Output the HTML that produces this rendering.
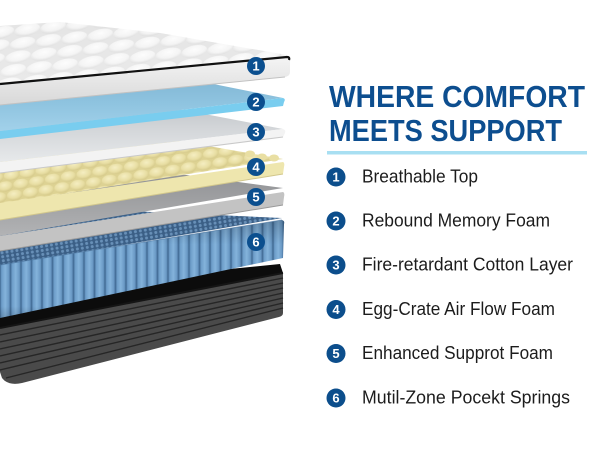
<!DOCTYPE html>
<html><head><meta charset="utf-8"><style>
html,body{margin:0;padding:0;background:#fff;}
svg{display:block;}
text{font-family:"Liberation Sans",Arial,sans-serif;}
</style></head><body>
<svg width="600" height="450" viewBox="0 0 600 450" xmlns="http://www.w3.org/2000/svg">
<defs>
  <radialGradient id="qg" cx="0.5" cy="0.35" r="0.62">
    <stop offset="0" stop-color="#fcfcfc"/>
    <stop offset="0.7" stop-color="#f1f1f1"/>
    <stop offset="1" stop-color="#d9d9d9"/>
  </radialGradient>
  <pattern id="quilt" patternUnits="userSpaceOnUse" width="26" height="13" patternTransform="rotate(-6) skewX(-25)">
    <rect width="26" height="13" fill="#e0e0e0"/>
    <ellipse cx="13" cy="6.5" rx="12.8" ry="6.2" fill="url(#qg)"/>
  </pattern>
  <radialGradient id="eg" cx="0.45" cy="0.35" r="0.65">
    <stop offset="0" stop-color="#f5eec2"/>
    <stop offset="0.65" stop-color="#e8dea3"/>
    <stop offset="1" stop-color="#d4c889"/>
  </radialGradient>
  <pattern id="egg" patternUnits="userSpaceOnUse" width="16" height="20" patternTransform="rotate(-9)">
    <rect width="16" height="20" fill="#ddd293"/>
    <ellipse cx="8" cy="5" rx="7.8" ry="5.2" fill="url(#eg)"/>
    <ellipse cx="0" cy="15" rx="7.8" ry="5.2" fill="url(#eg)"/>
    <ellipse cx="16" cy="15" rx="7.8" ry="5.2" fill="url(#eg)"/>
  </pattern>
  <pattern id="sptop" patternUnits="userSpaceOnUse" width="5" height="4" patternTransform="rotate(-9)">
    <rect width="5" height="4" fill="#3b5f86"/>
    <circle cx="2.5" cy="2" r="1.5" fill="#6890b8"/>
  </pattern>
  <linearGradient id="spring" gradientUnits="userSpaceOnUse" x1="0" y1="0" x2="10.5" y2="0" spreadMethod="repeat">
    <stop offset="0" stop-color="#3f6891"/>
    <stop offset="0.15" stop-color="#6c9cc8"/>
    <stop offset="0.5" stop-color="#84b3db"/>
    <stop offset="0.85" stop-color="#6998c4"/>
    <stop offset="1" stop-color="#3f6891"/>
  </linearGradient>
  <linearGradient id="spshade" x1="0" y1="0" x2="0" y2="1">
    <stop offset="0" stop-color="#000" stop-opacity="0.2"/>
    <stop offset="0.25" stop-color="#000" stop-opacity="0"/>
    <stop offset="0.88" stop-color="#000" stop-opacity="0"/>
    <stop offset="1" stop-color="#000" stop-opacity="0.15"/>
  </linearGradient>
  <linearGradient id="band1" x1="0" y1="0" x2="0" y2="1">
    <stop offset="0" stop-color="#f4f4f4"/>
    <stop offset="1" stop-color="#d8d8d8"/>
  </linearGradient>
  <linearGradient id="topshade" x1="0" y1="0" x2="0" y2="1">
    <stop offset="0" stop-color="#fff" stop-opacity="0.15"/>
    <stop offset="1" stop-color="#fff" stop-opacity="0.3"/>
  </linearGradient>
  <linearGradient id="blueTop" x1="0" y1="0" x2="0" y2="1">
    <stop offset="0" stop-color="#6ea3c4"/>
    <stop offset="0.7" stop-color="#8fc4e0"/>
    <stop offset="1" stop-color="#a2d1ea"/>
  </linearGradient>
  <linearGradient id="whiteTop" x1="0" y1="0" x2="0" y2="1">
    <stop offset="0" stop-color="#a9aeb4"/>
    <stop offset="0.6" stop-color="#d2d5d8"/>
    <stop offset="1" stop-color="#e7e9eb"/>
  </linearGradient>
  <linearGradient id="grayTop" x1="0" y1="0" x2="0" y2="1">
    <stop offset="0" stop-color="#85868a"/>
    <stop offset="0.65" stop-color="#a2a3a5"/>
    <stop offset="1" stop-color="#b2b3b5"/>
  </linearGradient>
</defs>

<rect width="600" height="450" fill="#fff"/>

<!-- BASE -->
<path d="M0,292 L280,264 L283,273 L0,331 Z" fill="#0c0c0c"/>
<path d="M0,328 L283,273 L283,313 Q283,316 279,317 L22,383 Q8,386 2,378 L0,372 Z" fill="#4a4a4a"/>
<g stroke="#262626" stroke-width="1.4" fill="none">
  <path d="M0,335 L283,278"/>
  <path d="M0,342 L283,283"/>
  <path d="M0,349 L283,288"/>
  <path d="M0,356 L283,293"/>
  <path d="M0,363 L283,298"/>
  <path d="M0,370 L283,303"/>
  <path d="M6,378 L283,308"/>
</g>
<path d="M0,328 L283,273" stroke="#151515" stroke-width="2" fill="none"/>

<!-- SPRINGS -->
<path d="M0,205 L282,218 L0,266 Z" fill="url(#sptop)"/>
<path d="M0,265 L282,220 Q285,221 284,224 L283,258 L0,318 Z" fill="url(#spring)"/>
<path d="M0,265 L282,220 Q285,221 284,224 L283,258 L0,318 Z" fill="url(#spshade)"/>
<path d="M0,265 L282,220" stroke="#4c77a0" stroke-width="1" fill="none" opacity="0.6"/>

<!-- LAYER 5 gray -->
<path d="M0,150 L283,188 L0,236 Z" fill="url(#grayTop)"/>
<path d="M0,236 L283,192 Q285,193 284,197 L283,205 L0,251 Z" fill="#c3c3c3"/>
<path d="M0,251 L283,205" stroke="#9a9a9a" stroke-width="1" fill="none"/>

<!-- LAYER 4 egg crate -->
<path d="M0,110 L283,159 L0,204 Z" fill="url(#egg)"/>
<g fill="#e9dfa3">
  <ellipse cx="262" cy="157" rx="5" ry="3.5"/>
  <ellipse cx="274" cy="158" rx="5" ry="3.5"/>
  <ellipse cx="250" cy="154" rx="5" ry="3.5"/>
</g>
<path d="M0,203 L283,162 Q285,163 284,167 L283,174 L0,220 Z" fill="#eee6ae"/>
<path d="M0,220 L283,174" stroke="#d2c78c" stroke-width="1" fill="none"/>

<!-- LAYER 3 white -->
<path d="M0,75 L283,129 L0,162 Z" fill="url(#whiteTop)"/>
<path d="M0,162 L283,129 Q286,130 285,133 L283,137 L0,173 Z" fill="#f3f3f3"/>
<path d="M0,173 L283,137" stroke="#c9c9c9" stroke-width="1" fill="none"/>

<!-- LAYER 2 blue -->
<path d="M0,41 L283,98 L0,131 Z" fill="url(#blueTop)"/>
<path d="M0,131 L283,98 Q286,99 284,102 L283,106 L0,139 Z" fill="#79cdef"/>

<!-- LAYER 1 top pillow -->
<path d="M0,26 L60,22 L160,33 L287,55 L287,58 L0,84 Z" fill="url(#quilt)"/>
<path d="M0,26 L60,22 L160,33 L287,55 L287,58 L0,84 Z" fill="url(#topshade)"/>
<path d="M0,85 L287,57.5 Q290,58 290,62 L290,72 Q290,76 285,77 L0,105 Z" fill="url(#band1)"/>
<path d="M0,84 L287,57 Q290,57 289,60" stroke="#111" stroke-width="2.2" fill="none"/>
<path d="M0,105 L285,77" stroke="#c2c2c2" stroke-width="1" fill="none"/>

<!-- mattress badges -->
<g fill="#0b4f8f">
  <circle cx="256" cy="66" r="9"/>
  <circle cx="256" cy="102" r="9"/>
  <circle cx="256" cy="132" r="9"/>
  <circle cx="256" cy="167" r="9"/>
  <circle cx="256" cy="197" r="9"/>
  <circle cx="256" cy="242" r="9"/>
</g>
<g fill="#fff" font-weight="bold" font-size="13" text-anchor="middle">
  <text x="256" y="70.7">1</text>
  <text x="256" y="106.7">2</text>
  <text x="256" y="136.7">3</text>
  <text x="256" y="171.7">4</text>
  <text x="256" y="201.7">5</text>
  <text x="256" y="246.7">6</text>
</g>

<!-- TITLE -->
<g fill="#0d4e8f" font-weight="bold" font-size="31">
  <text x="329" y="107" textLength="256" lengthAdjust="spacingAndGlyphs">WHERE COMFORT</text>
  <text x="329" y="141" textLength="233" lengthAdjust="spacingAndGlyphs">MEETS SUPPORT</text>
</g>
<rect x="327" y="151" width="260" height="3.5" fill="#a8dff2"/>

<!-- LIST -->
<g fill="#0c4e8c">
  <circle cx="336" cy="177" r="9.5"/>
  <circle cx="336" cy="221" r="9.5"/>
  <circle cx="336" cy="265" r="9.5"/>
  <circle cx="336" cy="309.5" r="9.5"/>
  <circle cx="336" cy="353.5" r="9.5"/>
  <circle cx="336" cy="398" r="9.5"/>
</g>
<g fill="#fff" font-weight="bold" font-size="13" text-anchor="middle">
  <text x="336" y="181.7">1</text>
  <text x="336" y="225.7">2</text>
  <text x="336" y="269.7">3</text>
  <text x="336" y="314.2">4</text>
  <text x="336" y="358.2">5</text>
  <text x="336" y="402.7">6</text>
</g>
<g fill="#1c1c1c" font-size="18">
  <text x="362" y="182.5" textLength="116" lengthAdjust="spacingAndGlyphs">Breathable Top</text>
  <text x="362" y="226.5" textLength="188" lengthAdjust="spacingAndGlyphs">Rebound Memory Foam</text>
  <text x="362" y="270.5" textLength="211" lengthAdjust="spacingAndGlyphs">Fire-retardant Cotton Layer</text>
  <text x="362" y="315" textLength="193" lengthAdjust="spacingAndGlyphs">Egg-Crate Air Flow Foam</text>
  <text x="362" y="359" textLength="191" lengthAdjust="spacingAndGlyphs">Enhanced Supprot Foam</text>
  <text x="362" y="403.5" textLength="208" lengthAdjust="spacingAndGlyphs">Mutil-Zone Pocekt Springs</text>
</g>
</svg>
</body></html>
